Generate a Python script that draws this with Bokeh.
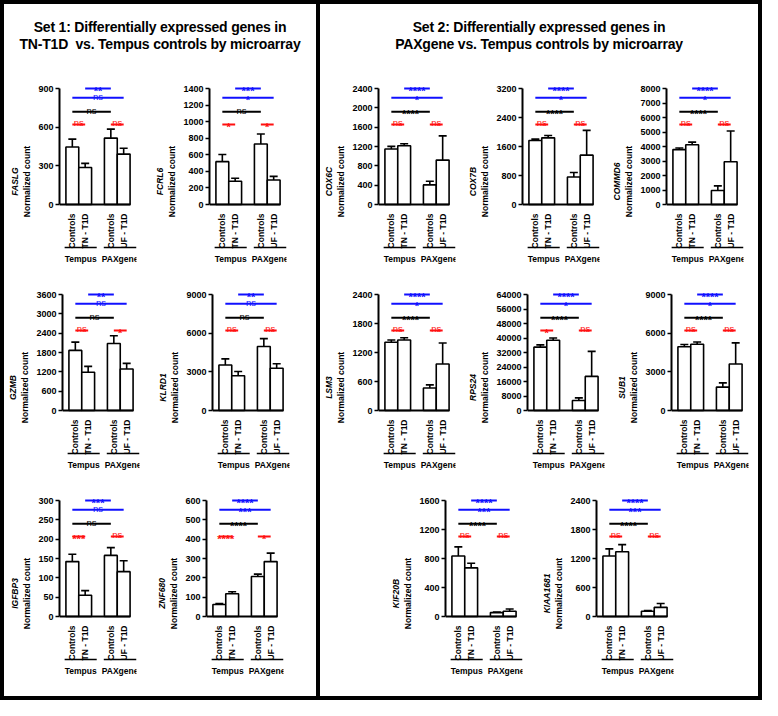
import math
from bokeh.plotting import figure
from bokeh.models import FixedTicker, LinearAxis, Range1d, Whisker, TeeHead, ColumnDataSource, Div, Spacer
from bokeh.layouts import row, column
from bokeh.core.properties import value
from bokeh.embed import file_html
from bokeh.resources import INLINE

# ---------------- data ----------------
categories_set = ["Controls", "TN - T1D", "Controls", "UF - T1D"]
groups = ["Tempus", "PAXgene"]
set1_title = "Set 1: Differentially expressed genes in<br>TN-T1D&nbsp; vs. Tempus controls by microarray"
set2_title = "Set 2: Differentially expressed genes in<br>PAXgene vs. Tempus controls by microarray"

# significance order: [Tempus TN-T1D vs PAXgene Controls, Tempus Controls vs PAXgene UF-T1D,
#                      Tempus Controls vs PAXgene Controls, Tempus pair, PAXgene pair]
FASLG_ticks = [0, 300, 600, 900]
FASLG_mean = [446, 287, 515, 391]
FASLG_err = [507, 319, 585, 436]
FASLG_sig = ["**", "ns", "ns", "ns", "ns"]

FCRL6_ticks = [0, 200, 400, 600, 800, 1000, 1200, 1400]
FCRL6_mean = [517, 280, 730, 296]
FCRL6_err = [603, 316, 851, 339]
FCRL6_sig = ["***", "*", "ns", "*", "*"]

GZMB_ticks = [0, 600, 1200, 1800, 2400, 3000, 3600]
GZMB_mean = [1865, 1187, 2078, 1287]
GZMB_err = [2121, 1369, 2322, 1461]
GZMB_sig = ["**", "ns", "ns", "ns", "*"]

KLRD1_ticks = [0, 3000, 6000, 9000]
KLRD1_mean = [3532, 2700, 4969, 3275]
KLRD1_err = [4008, 3025, 5574, 3630]
KLRD1_sig = ["**", "ns", "ns", "ns", "ns"]

IGFBP3_ticks = [0, 50, 100, 150, 200, 250, 300]
IGFBP3_mean = [142, 55, 158, 116]
IGFBP3_err = [161, 67, 178, 144]
IGFBP3_sig = ["***", "ns", "ns", "***", "ns"]

ZNF680_ticks = [0, 100, 200, 300, 400, 500, 600]
ZNF680_mean = [62, 118, 207, 284]
ZNF680_err = [67, 128, 219, 328]
ZNF680_sig = ["****", "***", "****", "****", "*"]

COX6C_ticks = [0, 400, 800, 1200, 1600, 2000, 2400]
COX6C_mean = [1149, 1217, 406, 919]
COX6C_err = [1203, 1257, 480, 1420]
COX6C_sig = ["****", "*", "****", "ns", "ns"]

COX7B_ticks = [0, 800, 1600, 2400, 3200]
COX7B_mean = [1767, 1839, 757, 1361]
COX7B_err = [1803, 1902, 883, 2046]
COX7B_sig = ["****", "*", "****", "ns", "ns"]

COMMD6_ticks = [0, 1000, 2000, 3000, 4000, 5000, 6000, 7000, 8000]
COMMD6_mean = [3786, 4124, 969, 2952]
COMMD6_err = [3899, 4304, 1285, 5070]
COMMD6_sig = ["****", "*", "****", "ns", "ns"]

LSM3_ticks = [0, 600, 1200, 1800, 2400]
LSM3_mean = [1412, 1459, 464, 961]
LSM3_err = [1459, 1506, 531, 1398]
LSM3_sig = ["****", "*", "****", "ns", "ns"]

RPS24_ticks = [0, 8000, 16000, 24000, 32000, 40000, 48000, 56000, 64000]
RPS24_mean = [34958, 38723, 5557, 18824]
RPS24_err = [36213, 39978, 6992, 32627]
RPS24_sig = ["****", "*", "****", "*", "ns"]

SUB1_ticks = [0, 3000, 6000, 9000]
SUB1_mean = [4941, 5143, 1815, 3605]
SUB1_err = [5118, 5319, 2143, 5244]
SUB1_sig = ["****", "*", "****", "ns", "ns"]

KIF20B_ticks = [0, 400, 800, 1200, 1600]
KIF20B_mean = [834, 671, 54, 72]
KIF20B_err = [961, 734, 63, 104]
KIF20B_sig = ["****", "***", "****", "ns", "ns"]

KIAA1681_ticks = [0, 600, 1200, 1800, 2400]
KIAA1681_mean = [1251, 1339, 108, 189]
KIAA1681_err = [1399, 1487, 122, 270]
KIAA1681_sig = ["****", "***", "****", "ns", "ns"]

# ---------------- styling ----------------
FONT = "Liberation Sans"
XPOS = [1, 2, 4, 5]
FRAME_W = 77
DATA_PX = 116
TOP_PX = 10
BOT_PX = 80
BLUE = "#1010ff"
RED = "#ff1010"
BR_X0 = [2, 1, 1, 1, 4]
BR_X1 = [4, 5, 4, 2, 5]
BR_LEV = [1.0, 0.92, 0.80, 0.69, 0.69]
BR_COL = [BLUE, BLUE, "black", RED, RED]


def panel(gene, ticks, means, errs, sig, left, width):
    ymax = ticks[-1]
    k = ymax / DATA_PX
    p = figure(frame_width=FRAME_W, frame_height=TOP_PX + DATA_PX + BOT_PX,
               x_range=Range1d(0, 6.0), y_range=Range1d(-BOT_PX * k, ymax + TOP_PX * k),
               output_backend="svg", toolbar_location=None,
               min_border_left=left, min_border_right=width - left - FRAME_W,
               min_border_top=0, min_border_bottom=0, outline_line_color=None,
               background_fill_color=None, border_fill_color=None)
    p.xgrid.visible = False
    p.ygrid.visible = False

    # x axis at y=0
    xa = p.xaxis[0]
    xa.fixed_location = 0
    xa.bounds = (0, 5.5)
    xa.ticker = FixedTicker(ticks=XPOS)
    xa.major_label_overrides = {x: c for x, c in zip(XPOS, categories_set)}
    xa.major_label_orientation = math.pi / 2
    xa.major_label_text_font = FONT
    xa.major_label_text_font_style = "bold"
    xa.major_label_text_font_size = "8.5px"
    xa.major_label_text_color = "black"
    xa.major_label_standoff = 3
    xa.major_tick_line_color = None
    xa.minor_tick_line_color = None
    xa.axis_line_width = 2
    xa.axis_line_color = "black"

    ya = p.yaxis[0]
    ya.ticker = FixedTicker(ticks=ticks)
    ya.bounds = (0, ymax)
    ya.minor_tick_line_color = None
    ya.major_tick_out = 4
    ya.major_tick_in = 0
    ya.major_tick_line_width = 1.5
    ya.axis_line_width = 2
    ya.axis_line_color = "black"
    ya.major_label_text_font = FONT
    ya.major_label_text_font_style = "bold"
    ya.major_label_text_font_size = "9px"
    ya.major_label_text_color = "black"
    ya.major_label_standoff = 2
    ya.axis_label = "Normalized count"
    ya.axis_label_text_font = FONT
    ya.axis_label_text_font_style = "bold"
    ya.axis_label_text_font_size = "8.5px"
    ya.axis_label_text_color = "black"
    ya.axis_label_standoff = 3

    ga = LinearAxis(ticker=FixedTicker(ticks=[]), bounds=(0, ymax), axis_label=gene,
                    axis_line_color=None, major_tick_line_color=None, minor_tick_line_color=None,
                    major_tick_out=0, major_tick_in=0, major_label_text_font_size="0px",
                    major_label_standoff=0, axis_label_standoff=0,
                    axis_label_text_font=FONT, axis_label_text_font_style="bold italic",
                    axis_label_text_font_size="8.5px", axis_label_text_color="black")
    p.add_layout(ga, "left")

    src = ColumnDataSource(dict(x=XPOS, top=means, err=errs))
    p.vbar(x="x", top="top", width=1, fill_color="white", line_color="black",
           line_width=1.6, source=src)
    p.add_layout(Whisker(base="x", upper="err", lower="top", source=src,
                         line_width=1.6, line_color="black",
                         upper_head=TeeHead(size=8, line_width=1.6, line_color="black"),
                         lower_head=None))

    # significance brackets
    ylev = [l * ymax for l in BR_LEV]
    p.segment(x0=BR_X0, x1=BR_X1, y0=ylev, y1=ylev, line_color=BR_COL, line_width=2)
    xm = [(a + b) / 2 for a, b in zip(BR_X0, BR_X1)]
    ns_i = [i for i, s in enumerate(sig) if s == "ns"]
    st_i = [i for i, s in enumerate(sig) if s != "ns"]
    p.text(x=[xm[i] for i in ns_i], y=[ylev[i] + 1.5 * k for i in ns_i],
           text=[sig[i] for i in ns_i], text_color=[BR_COL[i] for i in ns_i],
           text_align="center", text_baseline="alphabetic", text_font=value(FONT),
           text_font_size="9.5px")
    p.text(x=[xm[i] for i in st_i], y=[ylev[i] - 2.5 * k for i in st_i],
           text=[sig[i] for i in st_i], text_color=[BR_COL[i] for i in st_i],
           text_align="center", text_baseline="alphabetic", text_font=value(FONT),
           text_font_size="11px", text_font_style="bold")

    # group underlines and labels
    yl = -43 * k
    p.segment(x0=[0.4, 3.45], x1=[2.9, 6.0], y0=[yl, yl], y1=[yl, yl],
              line_color="black", line_width=1.6)
    p.text(x=[1.65, 4.72], y=[-54 * k, -54 * k], text=groups, text_align="center",
           text_baseline="middle", text_font=value(FONT), text_font_style="bold",
           text_font_size="8.5px", text_color="black")
    return p


def title_div(html, w):
    return Div(text=(f"<div style=\"width:{w}px;text-align:center;font-family:'{FONT}';"
                     f"font-weight:bold;font-size:14px;letter-spacing:-0.2px;line-height:17px;"
                     f"padding-top:15px;color:black\">{html}</div>"),
               width=w, height=74, margin=0)


S1L, S1W = 55, 147
S2L, S2W = 54, 140

set1 = column(
    title_div(set1_title, 312),
    row(panel("FASLG", FASLG_ticks, FASLG_mean, FASLG_err, FASLG_sig, S1L, S1W),
        panel("FCRL6", FCRL6_ticks, FCRL6_mean, FCRL6_err, FCRL6_sig, S1L, S1W)),
    row(panel("GZMB", GZMB_ticks, GZMB_mean, GZMB_err, GZMB_sig, S1L, S1W),
        panel("KLRD1", KLRD1_ticks, KLRD1_mean, KLRD1_err, KLRD1_sig, S1L, S1W)),
    row(panel("IGFBP3", IGFBP3_ticks, IGFBP3_mean, IGFBP3_err, IGFBP3_sig, S1L, S1W),
        panel("ZNF680", ZNF680_ticks, ZNF680_mean, ZNF680_err, ZNF680_sig, S1L, S1W)),
)
set2 = column(
    title_div(set2_title, 438),
    row(panel("COX6C", COX6C_ticks, COX6C_mean, COX6C_err, COX6C_sig, S2L, S2W),
        panel("COX7B", COX7B_ticks, COX7B_mean, COX7B_err, COX7B_sig, S2L, S2W),
        panel("COMMD6", COMMD6_ticks, COMMD6_mean, COMMD6_err, COMMD6_sig, S2L, S2W)),
    row(panel("LSM3", LSM3_ticks, LSM3_mean, LSM3_err, LSM3_sig, S2L, S2W),
        panel("RPS24", RPS24_ticks, RPS24_mean, RPS24_err, RPS24_sig, S2L, S2W),
        panel("SUB1", SUB1_ticks, SUB1_mean, SUB1_err, SUB1_sig, S2L, S2W)),
    row(Spacer(width=67, height=10, margin=0),
        panel("KIF20B", KIF20B_ticks, KIF20B_mean, KIF20B_err, KIF20B_sig, S2L, 147),
        panel("KIAA1681", KIAA1681_ticks, KIAA1681_mean, KIAA1681_err, KIAA1681_sig, S2L, 147)),
)


def bar(w, h):
    return Div(text="", width=w, height=h, margin=0, styles={"background-color": "black"})


layout = column(bar(762, 4),
                row(bar(4, 692), set1, bar(4, 692), set2, bar(4, 692)),
                bar(762, 4))

open("out.html", "w").write(file_html(layout, INLINE))
